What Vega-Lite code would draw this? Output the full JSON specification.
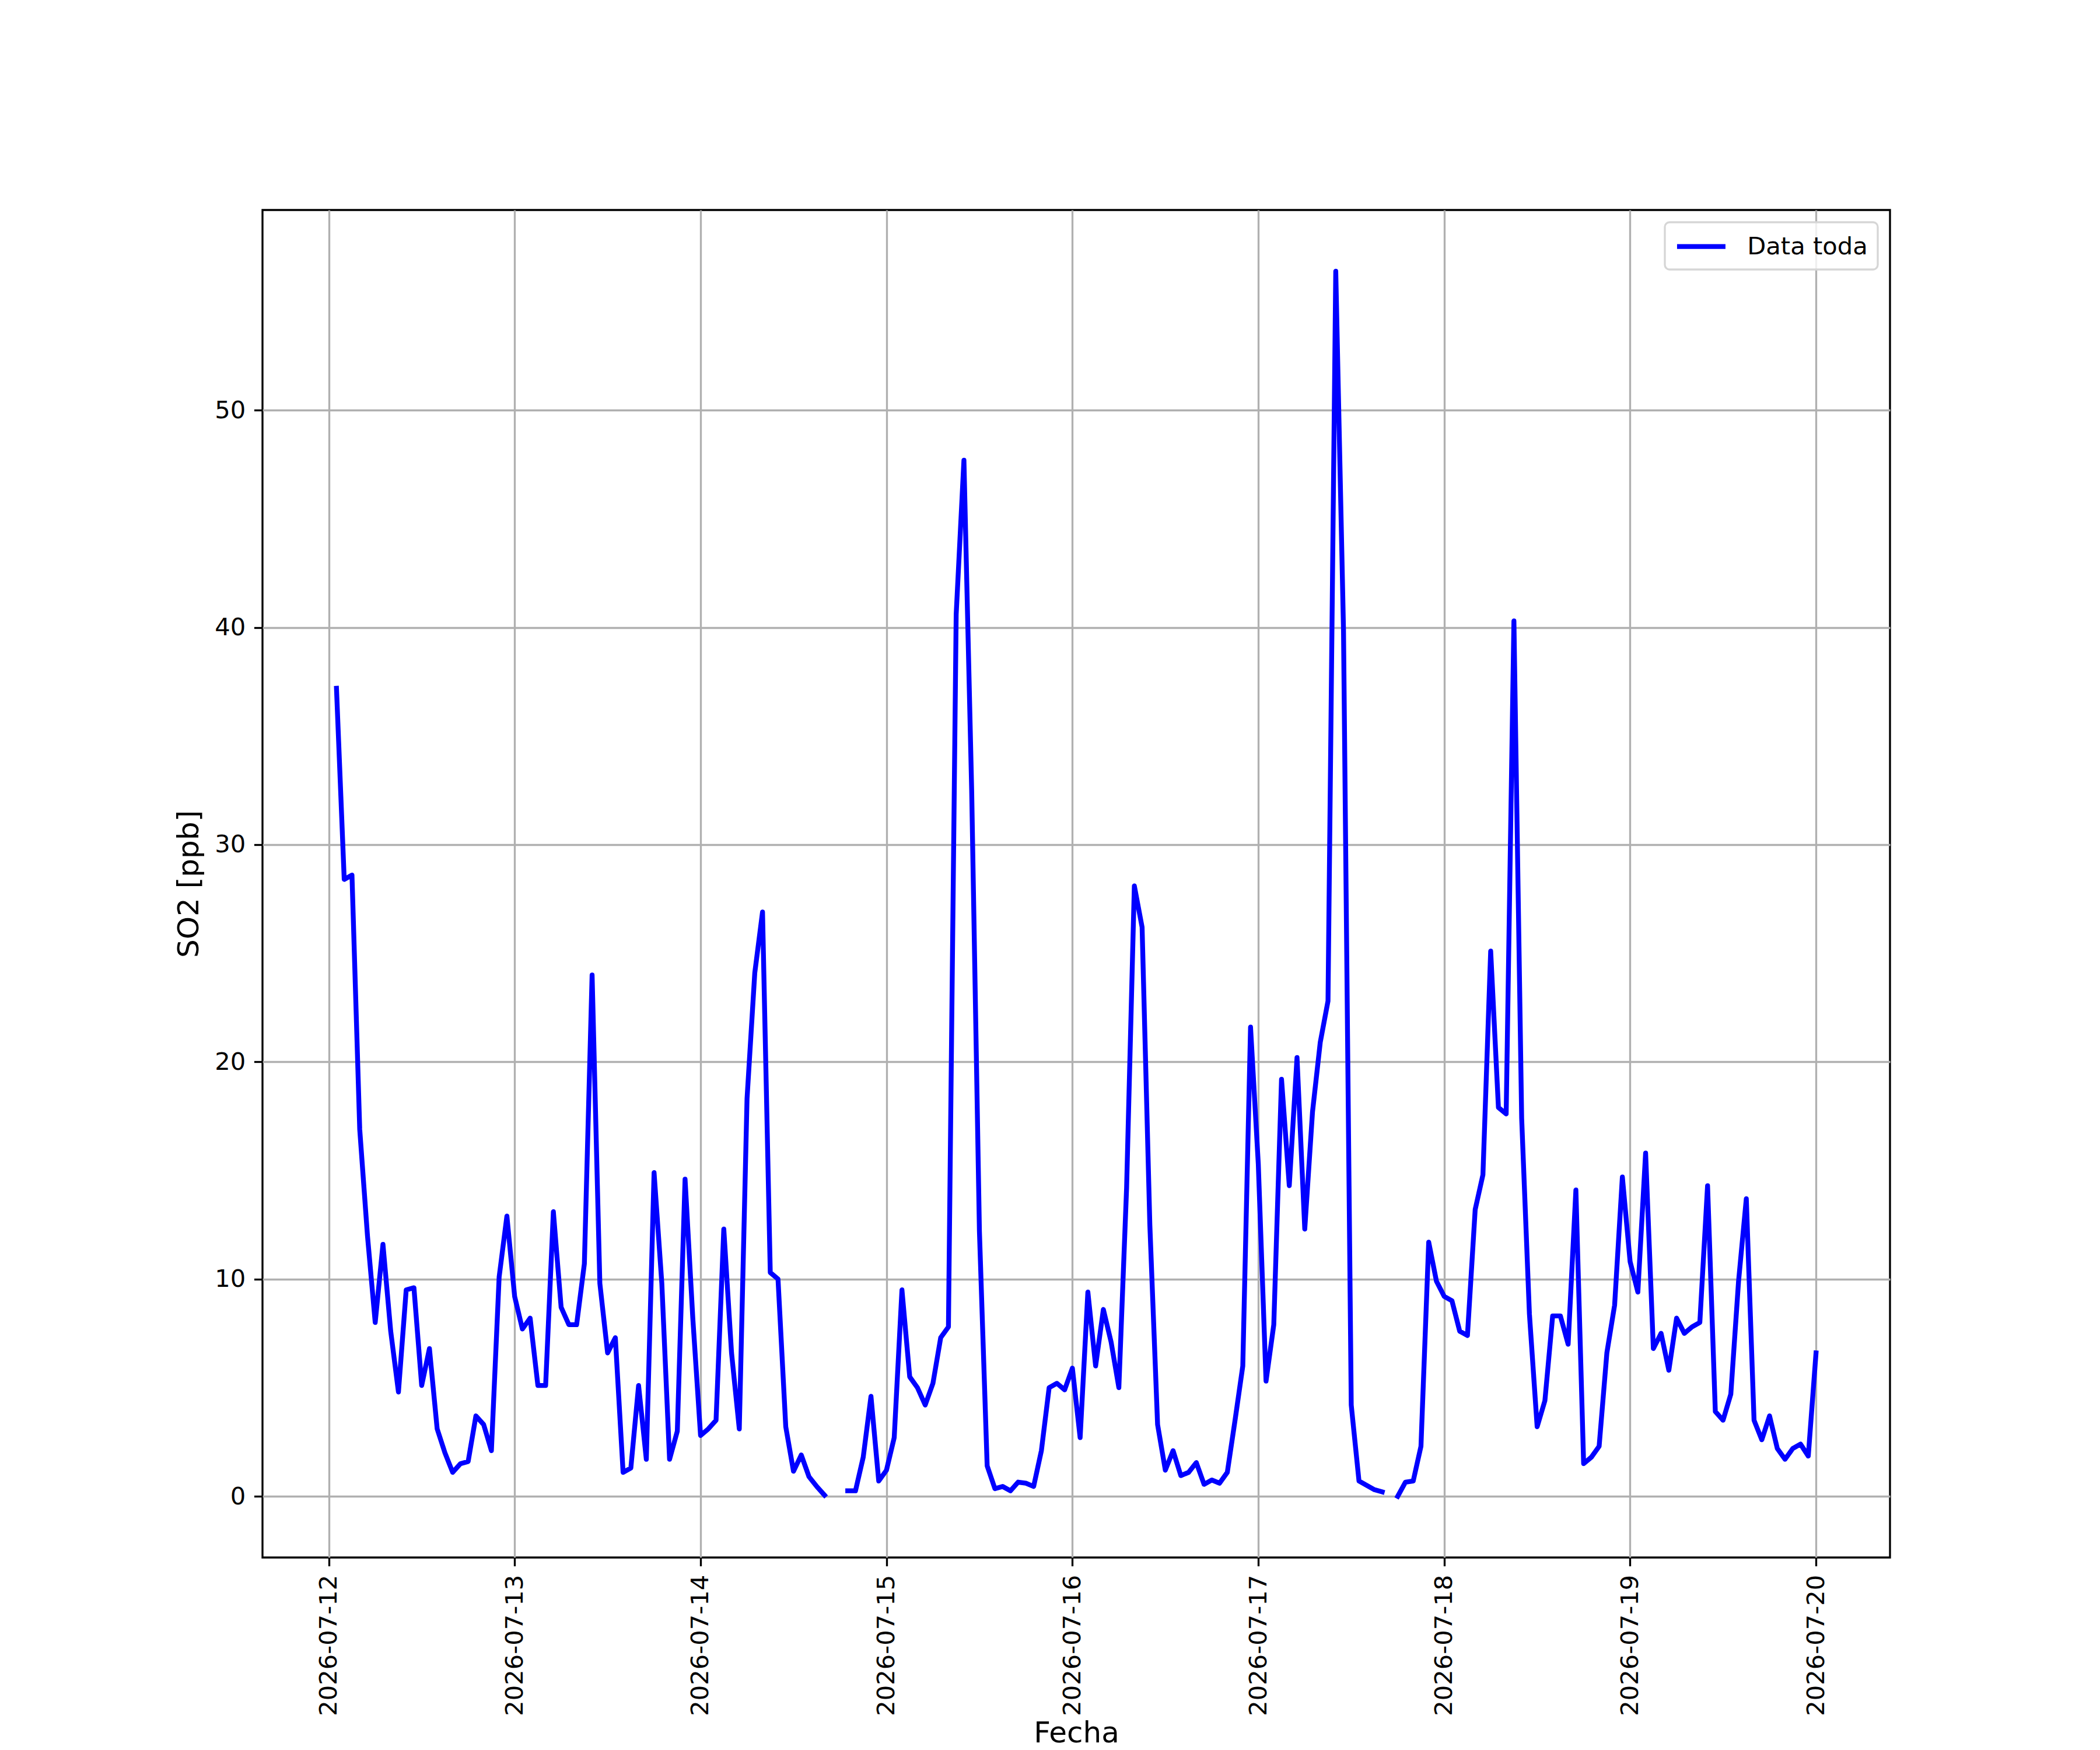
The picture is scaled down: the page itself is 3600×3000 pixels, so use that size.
{
  "$schema": "https://vega.github.io/schema/vega-lite/v6.json",
  "width": 2790,
  "height": 2310,
  "autosize": {"type": "none"},
  "padding": {"left": 450, "top": 360, "right": 360, "bottom": 330},
  "background": "white",
  "data": {
    "format": {"parse": {"t": "date:'%Y-%m-%d %H:%M'"}},
    "values": [
      {"t": "2026-07-12 01:00", "v": 37.2}, {"t": "2026-07-12 02:00", "v": 28.4}, {"t": "2026-07-12 03:00", "v": 28.6},
      {"t": "2026-07-12 04:00", "v": 16.9}, {"t": "2026-07-12 05:00", "v": 12.0}, {"t": "2026-07-12 06:00", "v": 8.0},
      {"t": "2026-07-12 07:00", "v": 11.6}, {"t": "2026-07-12 08:00", "v": 7.6}, {"t": "2026-07-12 09:00", "v": 4.8},
      {"t": "2026-07-12 10:00", "v": 9.5}, {"t": "2026-07-12 11:00", "v": 9.6}, {"t": "2026-07-12 12:00", "v": 5.1},
      {"t": "2026-07-12 13:00", "v": 6.8}, {"t": "2026-07-12 14:00", "v": 3.1}, {"t": "2026-07-12 15:00", "v": 2.0},
      {"t": "2026-07-12 16:00", "v": 1.1}, {"t": "2026-07-12 17:00", "v": 1.5}, {"t": "2026-07-12 18:00", "v": 1.6},
      {"t": "2026-07-12 19:00", "v": 3.7}, {"t": "2026-07-12 20:00", "v": 3.3}, {"t": "2026-07-12 21:00", "v": 2.1},
      {"t": "2026-07-12 22:00", "v": 10.1}, {"t": "2026-07-12 23:00", "v": 12.9},
      {"t": "2026-07-13 00:00", "v": 9.2}, {"t": "2026-07-13 01:00", "v": 7.7}, {"t": "2026-07-13 02:00", "v": 8.2},
      {"t": "2026-07-13 03:00", "v": 5.1}, {"t": "2026-07-13 04:00", "v": 5.1}, {"t": "2026-07-13 05:00", "v": 13.1},
      {"t": "2026-07-13 06:00", "v": 8.7}, {"t": "2026-07-13 07:00", "v": 7.9}, {"t": "2026-07-13 08:00", "v": 7.9},
      {"t": "2026-07-13 09:00", "v": 10.7}, {"t": "2026-07-13 10:00", "v": 24.0}, {"t": "2026-07-13 11:00", "v": 9.8},
      {"t": "2026-07-13 12:00", "v": 6.6}, {"t": "2026-07-13 13:00", "v": 7.3}, {"t": "2026-07-13 14:00", "v": 1.1},
      {"t": "2026-07-13 15:00", "v": 1.3}, {"t": "2026-07-13 16:00", "v": 5.1}, {"t": "2026-07-13 17:00", "v": 1.7},
      {"t": "2026-07-13 18:00", "v": 14.9}, {"t": "2026-07-13 19:00", "v": 9.8}, {"t": "2026-07-13 20:00", "v": 1.7},
      {"t": "2026-07-13 21:00", "v": 3.0}, {"t": "2026-07-13 22:00", "v": 14.6}, {"t": "2026-07-13 23:00", "v": 8.2},
      {"t": "2026-07-14 00:00", "v": 2.8}, {"t": "2026-07-14 01:00", "v": 3.1}, {"t": "2026-07-14 02:00", "v": 3.5},
      {"t": "2026-07-14 03:00", "v": 12.3}, {"t": "2026-07-14 04:00", "v": 6.6}, {"t": "2026-07-14 05:00", "v": 3.1},
      {"t": "2026-07-14 06:00", "v": 18.3}, {"t": "2026-07-14 07:00", "v": 24.1}, {"t": "2026-07-14 08:00", "v": 26.9},
      {"t": "2026-07-14 09:00", "v": 10.3}, {"t": "2026-07-14 10:00", "v": 10.0}, {"t": "2026-07-14 11:00", "v": 3.2},
      {"t": "2026-07-14 12:00", "v": 1.15}, {"t": "2026-07-14 13:00", "v": 1.9}, {"t": "2026-07-14 14:00", "v": 0.9},
      {"t": "2026-07-14 15:00", "v": 0.45}, {"t": "2026-07-14 16:00", "v": 0.05}, {"t": "2026-07-14 17:00", "v": null},
      {"t": "2026-07-14 18:00", "v": null}, {"t": "2026-07-14 19:00", "v": 0.25}, {"t": "2026-07-14 20:00", "v": 0.25},
      {"t": "2026-07-14 21:00", "v": 1.8}, {"t": "2026-07-14 22:00", "v": 4.6}, {"t": "2026-07-14 23:00", "v": 0.7},
      {"t": "2026-07-15 00:00", "v": 1.2}, {"t": "2026-07-15 01:00", "v": 2.7}, {"t": "2026-07-15 02:00", "v": 9.5},
      {"t": "2026-07-15 03:00", "v": 5.5}, {"t": "2026-07-15 04:00", "v": 5.0}, {"t": "2026-07-15 05:00", "v": 4.2},
      {"t": "2026-07-15 06:00", "v": 5.2}, {"t": "2026-07-15 07:00", "v": 7.3}, {"t": "2026-07-15 08:00", "v": 7.8},
      {"t": "2026-07-15 09:00", "v": 40.6}, {"t": "2026-07-15 10:00", "v": 47.7}, {"t": "2026-07-15 11:00", "v": 32.5},
      {"t": "2026-07-15 12:00", "v": 12.2}, {"t": "2026-07-15 13:00", "v": 1.4}, {"t": "2026-07-15 14:00", "v": 0.35},
      {"t": "2026-07-15 15:00", "v": 0.45}, {"t": "2026-07-15 16:00", "v": 0.25}, {"t": "2026-07-15 17:00", "v": 0.65},
      {"t": "2026-07-15 18:00", "v": 0.6}, {"t": "2026-07-15 19:00", "v": 0.45}, {"t": "2026-07-15 20:00", "v": 2.1},
      {"t": "2026-07-15 21:00", "v": 5.0}, {"t": "2026-07-15 22:00", "v": 5.2}, {"t": "2026-07-15 23:00", "v": 4.9},
      {"t": "2026-07-16 00:00", "v": 5.9}, {"t": "2026-07-16 01:00", "v": 2.7}, {"t": "2026-07-16 02:00", "v": 9.4},
      {"t": "2026-07-16 03:00", "v": 6.0}, {"t": "2026-07-16 04:00", "v": 8.6}, {"t": "2026-07-16 05:00", "v": 7.1},
      {"t": "2026-07-16 06:00", "v": 5.0}, {"t": "2026-07-16 07:00", "v": 14.2}, {"t": "2026-07-16 08:00", "v": 28.1},
      {"t": "2026-07-16 09:00", "v": 26.2}, {"t": "2026-07-16 10:00", "v": 12.5}, {"t": "2026-07-16 11:00", "v": 3.3},
      {"t": "2026-07-16 12:00", "v": 1.2}, {"t": "2026-07-16 13:00", "v": 2.1}, {"t": "2026-07-16 14:00", "v": 0.95},
      {"t": "2026-07-16 15:00", "v": 1.1}, {"t": "2026-07-16 16:00", "v": 1.55}, {"t": "2026-07-16 17:00", "v": 0.55},
      {"t": "2026-07-16 18:00", "v": 0.75}, {"t": "2026-07-16 19:00", "v": 0.6}, {"t": "2026-07-16 20:00", "v": 1.1},
      {"t": "2026-07-16 21:00", "v": 3.5}, {"t": "2026-07-16 22:00", "v": 6.0}, {"t": "2026-07-16 23:00", "v": 21.6},
      {"t": "2026-07-17 00:00", "v": 15.3}, {"t": "2026-07-17 01:00", "v": 5.3}, {"t": "2026-07-17 02:00", "v": 7.9},
      {"t": "2026-07-17 03:00", "v": 19.2}, {"t": "2026-07-17 04:00", "v": 14.3}, {"t": "2026-07-17 05:00", "v": 20.2},
      {"t": "2026-07-17 06:00", "v": 12.3}, {"t": "2026-07-17 07:00", "v": 17.7}, {"t": "2026-07-17 08:00", "v": 20.9},
      {"t": "2026-07-17 09:00", "v": 22.8}, {"t": "2026-07-17 10:00", "v": 56.4}, {"t": "2026-07-17 11:00", "v": 39.9},
      {"t": "2026-07-17 12:00", "v": 4.2}, {"t": "2026-07-17 13:00", "v": 0.7}, {"t": "2026-07-17 14:00", "v": 0.5},
      {"t": "2026-07-17 15:00", "v": 0.3}, {"t": "2026-07-17 16:00", "v": 0.2}, {"t": "2026-07-17 17:00", "v": null},
      {"t": "2026-07-17 18:00", "v": 0.0}, {"t": "2026-07-17 19:00", "v": 0.65}, {"t": "2026-07-17 20:00", "v": 0.7},
      {"t": "2026-07-17 21:00", "v": 2.3}, {"t": "2026-07-17 22:00", "v": 11.7}, {"t": "2026-07-17 23:00", "v": 9.9},
      {"t": "2026-07-18 00:00", "v": 9.2}, {"t": "2026-07-18 01:00", "v": 9.0}, {"t": "2026-07-18 02:00", "v": 7.6},
      {"t": "2026-07-18 03:00", "v": 7.4}, {"t": "2026-07-18 04:00", "v": 13.2}, {"t": "2026-07-18 05:00", "v": 14.8},
      {"t": "2026-07-18 06:00", "v": 25.1}, {"t": "2026-07-18 07:00", "v": 17.9}, {"t": "2026-07-18 08:00", "v": 17.6},
      {"t": "2026-07-18 09:00", "v": 40.3}, {"t": "2026-07-18 10:00", "v": 17.4}, {"t": "2026-07-18 11:00", "v": 8.4},
      {"t": "2026-07-18 12:00", "v": 3.2}, {"t": "2026-07-18 13:00", "v": 4.4}, {"t": "2026-07-18 14:00", "v": 8.3},
      {"t": "2026-07-18 15:00", "v": 8.3}, {"t": "2026-07-18 16:00", "v": 7.0}, {"t": "2026-07-18 17:00", "v": 14.1},
      {"t": "2026-07-18 18:00", "v": 1.5}, {"t": "2026-07-18 19:00", "v": 1.8}, {"t": "2026-07-18 20:00", "v": 2.3},
      {"t": "2026-07-18 21:00", "v": 6.6}, {"t": "2026-07-18 22:00", "v": 8.8}, {"t": "2026-07-18 23:00", "v": 14.7},
      {"t": "2026-07-19 00:00", "v": 10.8}, {"t": "2026-07-19 01:00", "v": 9.4}, {"t": "2026-07-19 02:00", "v": 15.8},
      {"t": "2026-07-19 03:00", "v": 6.8}, {"t": "2026-07-19 04:00", "v": 7.5}, {"t": "2026-07-19 05:00", "v": 5.8},
      {"t": "2026-07-19 06:00", "v": 8.2}, {"t": "2026-07-19 07:00", "v": 7.5}, {"t": "2026-07-19 08:00", "v": 7.8},
      {"t": "2026-07-19 09:00", "v": 8.0}, {"t": "2026-07-19 10:00", "v": 14.3}, {"t": "2026-07-19 11:00", "v": 3.9},
      {"t": "2026-07-19 12:00", "v": 3.5}, {"t": "2026-07-19 13:00", "v": 4.7}, {"t": "2026-07-19 14:00", "v": 9.9},
      {"t": "2026-07-19 15:00", "v": 13.7}, {"t": "2026-07-19 16:00", "v": 3.5}, {"t": "2026-07-19 17:00", "v": 2.6},
      {"t": "2026-07-19 18:00", "v": 3.7}, {"t": "2026-07-19 19:00", "v": 2.2}, {"t": "2026-07-19 20:00", "v": 1.7},
      {"t": "2026-07-19 21:00", "v": 2.2}, {"t": "2026-07-19 22:00", "v": 2.4}, {"t": "2026-07-19 23:00", "v": 1.85},
      {"t": "2026-07-20 00:00", "v": 6.6}
    ]
  },
  "mark": {
    "type": "line",
    "strokeWidth": 8.33,
    "strokeJoin": "round",
    "strokeCap": "square",
    "invalid": "break-paths-filter-domains"
  },
  "encoding": {
    "x": {
      "field": "t",
      "type": "temporal",
      "title": "Fecha",
      "scale": {
        "domain": [
          {"year": 2026, "month": 7, "date": 11, "hours": 15, "minutes": 27},
          {"year": 2026, "month": 7, "date": 20, "hours": 9, "minutes": 33}
        ],
        "nice": false
      },
      "axis": {
        "format": "%Y-%m-%d",
        "tickCount": {"interval": "day", "step": 1},
        "labelAngle": 270,
        "labelAlign": "right",
        "labelBaseline": "middle",
        "labelOverlap": false,
        "labelFlush": false,
        "labelLimit": 0,
        "titleY": 316,
        "titleBaseline": "alphabetic"
      }
    },
    "y": {
      "field": "v",
      "type": "quantitative",
      "title": "SO2 [ppb]",
      "scale": {"domain": [-2.82, 59.22], "nice": false, "zero": false},
      "axis": {
        "values": [0, 10, 20, 30, 40, 50],
        "titleX": -111,
        "titleBaseline": "alphabetic"
      }
    },
    "color": {
      "datum": "Data toda",
      "type": "nominal",
      "scale": {"range": ["#0000ff"]},
      "legend": {
        "title": null,
        "orient": "top-right",
        "offset": 21,
        "padding": 16.7,
        "fillColor": "rgba(255,255,255,0.8)",
        "strokeColor": "#d6d6d6",
        "cornerRadius": 8,
        "symbolType": "M-1,0H3",
        "symbolSize": 1722,
        "symbolStrokeWidth": 8.33,
        "symbolOffset": 0,
        "labelOffset": 74.5,
        "labelLimit": 0,
        "labelFont": "DejaVu Sans",
        "labelFontSize": 41.67,
        "labelColor": "black",
        "encode": {"legend": {"update": {"strokeWidth": {"value": 3.3}}}}
      }
    }
  },
  "config": {
    "font": "DejaVu Sans",
    "view": {"stroke": "black", "strokeWidth": 3.33},
    "axis": {
      "domain": false,
      "grid": true,
      "gridColor": "#b0b0b0",
      "gridWidth": 3.33,
      "gridOpacity": 1,
      "ticks": true,
      "tickColor": "black",
      "tickSize": 14.58,
      "tickWidth": 3.33,
      "labelPadding": 14.58,
      "labelFont": "DejaVu Sans",
      "labelFontSize": 41.67,
      "labelColor": "black",
      "titleFont": "DejaVu Sans",
      "titleFontSize": 50,
      "titleFontWeight": "normal",
      "titleColor": "black"
    }
  }
}
